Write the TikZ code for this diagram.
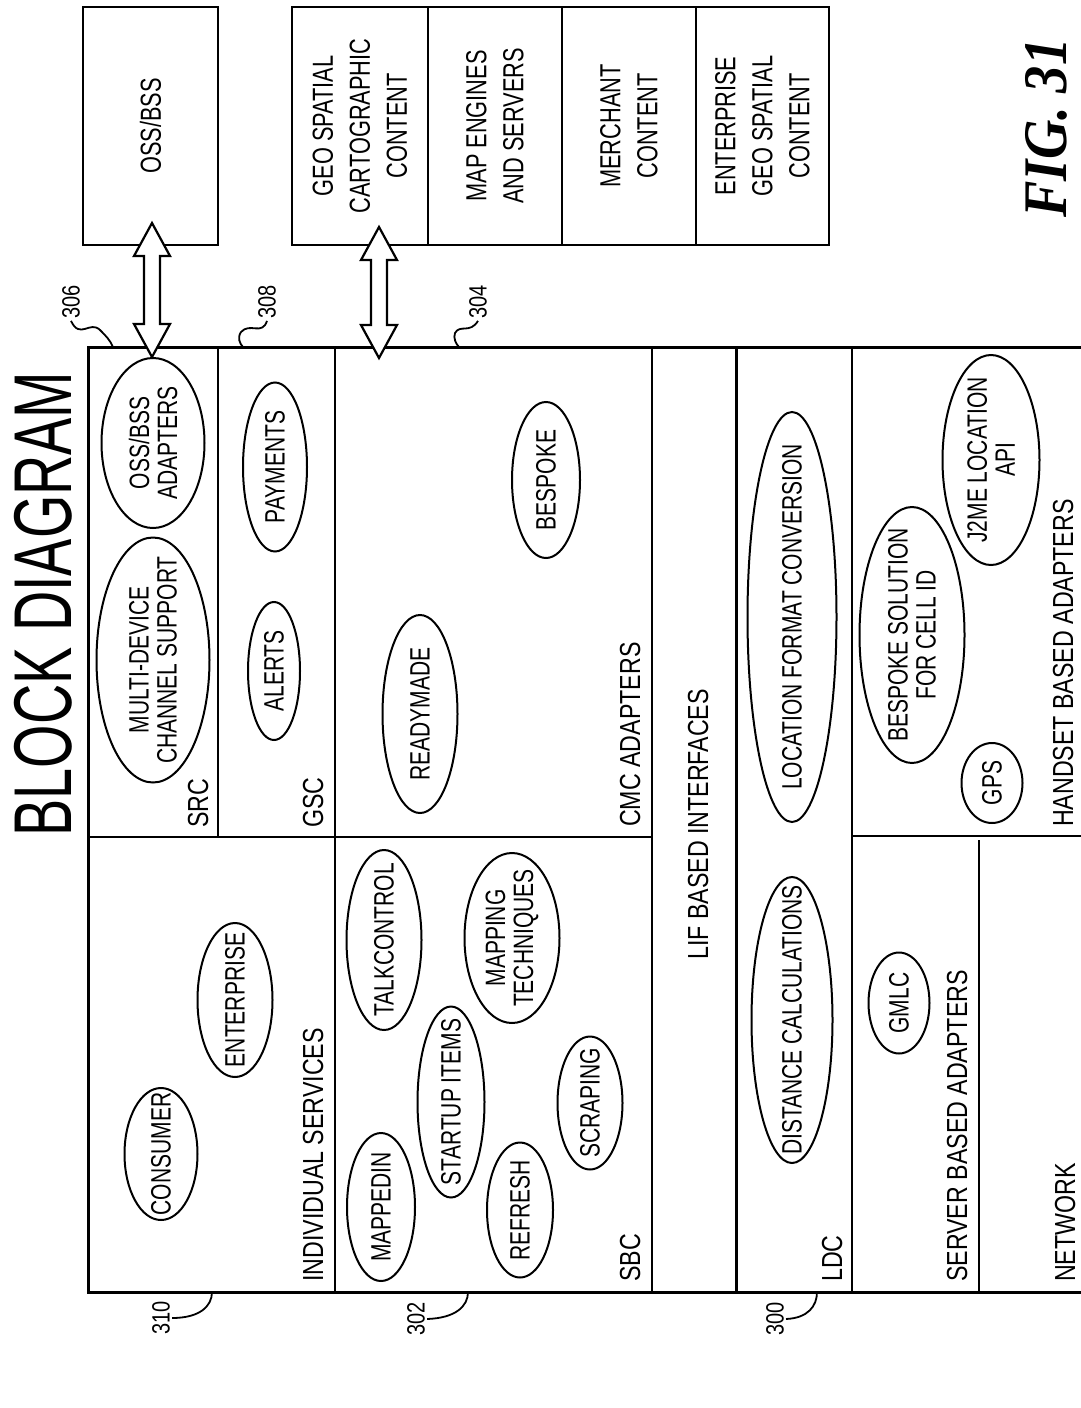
\documentclass[tikz,border=0pt]{standalone}
\usepackage{fontspec}
\setmainfont{Liberation Sans}
\newfontfamily\cnd[FakeStretch=0.75]{Liberation Sans}
\newfontfamily\lblf[FakeStretch=0.8]{Liberation Sans}
\newfontfamily\ttlf[FakeStretch=0.68]{Liberation Sans}
\newfontfamily\figf[FakeStretch=0.88]{Liberation Serif}
\usetikzlibrary{shapes.geometric,calc}
\newcommand\myell[6]{%
  \node[ellb,minimum width=#5pt,minimum height=#4pt] (#1) at (#2,#3) {};
  \node[ellt] (#1t) at (#1.center) {#6};}
\newcommand\dblarr[2]{%
  \draw[dbl] let \p1=(#1), \p2=(#2) in
    (\x1,\y1) -- (\x1+18pt,\y1-33pt) -- (\x1+8pt,\y1-33pt) -- (\x1+8pt,\y2+33pt)
    -- (\x1+18pt,\y2+33pt) -- (\x1,\y2) -- (\x1-18pt,\y2+33pt) -- (\x1-8pt,\y2+33pt)
    -- (\x1-8pt,\y1-33pt) -- (\x1-18pt,\y1-33pt) -- cycle;}
\begin{document}
\begin{tikzpicture}[x=1pt,y=-1pt,
  ellb/.style={draw,ellipse,line width=2pt,inner sep=0pt,rotate=90},
  ellt/.style={rotate=90,align=center,inner sep=0pt,font=\cnd\fontsize{28}{28}\selectfont},
  lbl/.style={rotate=90,anchor=base west,inner sep=0pt,font=\lblf\fontsize{29}{29}\selectfont},
  topbox/.style={draw,line width=2.5pt,rotate=90,minimum width=238pt,align=center,inner sep=0pt,font=\cnd\fontsize{29}{37}\selectfont},
  num/.style={rotate=90,inner sep=2pt,font=\lblf\fontsize{25}{25}\selectfont},
  leader/.style={line width=1.8pt},
  dbl/.style={draw,line width=2.2pt,fill=white,line join=miter},
  wall/.style={line width=2pt},
  thickwall/.style={line width=3pt}]
\useasboundingbox (0,0) rectangle (1080,1408);

% main block
\draw[thickwall] (88,347) rectangle (1084,1292);
\draw[wall] (218,347) -- (218,837);
\draw[wall] (335,347) -- (335,1292);
\draw[wall] (88,837) -- (652,837);
\draw[wall] (652,347) -- (652,1292);
\draw[thickwall] (736,347) -- (736,1292);
\draw[wall] (852,347) -- (852,1292);
\draw[wall] (852,836) -- (1084,836);
\draw[wall] (979,840) -- (979,1292);

% top boxes
\node[topbox,minimum height=135pt] (oss) at (150.5,126) {OSS/BSS};
\node[topbox,minimum height=136pt] (geo) at (360,126) {GEO SPATIAL\\CARTOGRAPHIC\\CONTENT};
\node[topbox,minimum height=134pt] (mapeng) at (495,126) {MAP ENGINES\\AND SERVERS};
\node[topbox,minimum height=134pt] (merch) at (629,126) {MERCHANT\\CONTENT};
\node[topbox,minimum height=133pt] (entgeo) at (762.5,126) {ENTERPRISE\\GEO SPATIAL\\CONTENT};

% title and figure number
\node[rotate=90,inner sep=0pt,font=\ttlf\fontsize{82}{82}\selectfont] (title) at (43,604) {BLOCK DIAGRAM};
\node[rotate=90,inner sep=0pt,font=\figf\bfseries\itshape\fontsize{62}{62}\selectfont] (fig) at (1046,128) {FIG. 31};

% ellipses
\myell{adapt}{153}{443}{103}{170}{OSS/BSS\\ADAPTERS}
\myell{multi}{153}{660}{113}{245}{MULTI-DEVICE\\CHANNEL SUPPORT}
\myell{pay}{275}{467}{64}{169}{PAYMENTS}
\myell{alerts}{274}{671}{52}{138}{ALERTS}
\myell{bespoke}{546}{480}{68}{156}{BESPOKE}
\myell{ready}{420}{714}{75}{198}{READYMADE}
\myell{lfc}{792}{617}{89}{410}{LOCATION FORMAT CONVERSION}
\myell{j2me}{991}{460}{97}{210}{J2ME LOCATION\\API}
\myell{cellid}{912}{635}{105}{256}{BESPOKE SOLUTION\\FOR CELL ID}
\myell{gps}{992}{783}{61}{80}{GPS}
\myell{consumer}{161}{1154}{73}{132}{CONSUMER}
\myell{enterprise}{235}{1000}{75}{154}{ENTERPRISE}
\myell{talk}{384}{940}{75}{180}{TALKCONTROL}
\myell{maptech}{512}{938}{95}{170}{MAPPING\\TECHNIQUES}
\myell{startup}{451}{1102}{67}{191}{STARTUP ITEMS}
\myell{mappedin}{381}{1207}{68}{148}{MAPPEDIN}
\myell{refresh}{520}{1210}{66}{135}{REFRESH}
\myell{scraping}{590}{1103}{65}{133}{SCRAPING}
\myell{dist}{792}{1020}{81}{286}{DISTANCE CALCULATIONS}
\myell{gmlc}{899}{1003}{61}{101}{GMLC}

% section labels
\node[lbl] (lsrc) at (208,828) {SRC};
\node[lbl] (lgsc) at (323,828) {GSC};
\node[lbl] (lcmc) at (640,827) {CMC ADAPTERS};
\node[lbl] (lind) at (323,1282) {INDIVIDUAL SERVICES};
\node[lbl] (lsbc) at (640,1282) {SBC};
\node[lbl] (llif) at (708,960) {LIF BASED INTERFACES};
\node[lbl] (lldc) at (842,1282) {LDC};
\node[lbl] (lsrv) at (967,1282) {SERVER BASED ADAPTERS};
\node[lbl] (lnet) at (1075,1282) {NETWORK};
\node[lbl] (lhand) at (1073,827) {HANDSET BASED ADAPTERS};

% double arrows
\coordinate (a1t) at (152,223);
\coordinate (a1b) at (152,357);
\coordinate (a2t) at (379,227);
\coordinate (a2b) at (379,358);
\dblarr{a1t}{a1b}
\dblarr{a2t}{a2b}

% reference numerals
\node[num] (n306) at (71,302) {306};
\node[num] (n308) at (267,302) {308};
\node[num] (n304) at (478,302) {304};
\node[num] (n310) at (161,1318) {310};
\node[num] (n302) at (416,1319) {302};
\node[num] (n300) at (775,1319) {300};
\coordinate (c306) at (113,347);
\coordinate (c308) at (243,347);
\coordinate (c304) at (459,347);
\coordinate (c310) at (212,1292);
\coordinate (c302) at (468,1292);
\coordinate (c300) at (817,1292);
\draw[leader] (n306.west) .. controls (80,340) and (90,320) .. (100,330) .. controls (106,336) and (110,340) .. (c306);
\draw[leader] (n308.west) .. controls (262,336) and (250,322) .. (241,332) .. controls (237,338) and (240,344) .. (c308);
\draw[leader] (n304.west) .. controls (470,334) and (460,324) .. (455,333) .. controls (453,338) and (456,344) .. (c304);
\draw[leader] (n310.south) .. controls (200,1318) and (212,1306) .. (c310);
\draw[leader] (n302.south) .. controls (456,1318) and (468,1306) .. (c302);
\draw[leader] (n300.south) .. controls (808,1318) and (817,1306) .. (c300);
\end{tikzpicture}
\end{document}
